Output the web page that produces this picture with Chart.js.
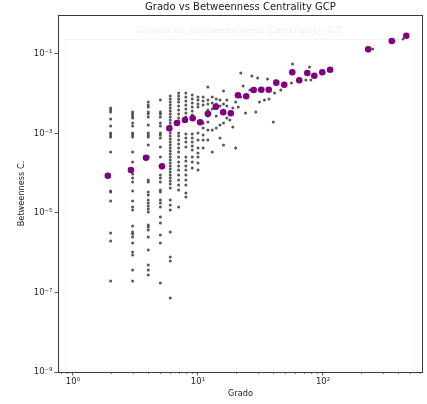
<!DOCTYPE html>
<html>
<head>
<meta charset="utf-8">
<script src="https://cdn.jsdelivr.net/npm/chart.js@4.4.1/dist/chart.umd.min.js"></script>
<style>
  html, body { margin: 0; padding: 0; background: #ffffff; }
  #wrap { width: 427px; height: 404px; position: relative; }
</style>
</head>
<body>
<div id="wrap"><canvas id="c" width="427" height="404"></canvas></div>
<script>
// Node degree columns and the betweenness centrality of every node with that degree
const colDegrees = [2, 3, 4, 5, 6, 7, 8, 9, 10, 11, 12, 13, 14, 15, 16, 17, 18, 19, 20, 21, 22, 23, 24, 26, 27, 29, 30, 31, 34, 36, 37, 40, 41, 46, 56, 57, 73, 78, 80, 250, 370, 437];
const colBetweenness = [
  [4.38e-3, 3.90e-3, 3.48e-3, 2.32e-3, 1.54e-3, 1.03e-3, 9.19e-4, 8.17e-4, 3.42e-4, 3.58e-5, 3.38e-5, 2.00e-5, 3.14e-6, 1.97e-6, 1.95e-7],
  [3.48e-3, 3.10e-3, 2.76e-3, 2.46e-3, 1.84e-3, 1.54e-3, 1.03e-3, 9.19e-4, 8.17e-4, 3.42e-4, 1.92e-4, 9.59e-5, 7.61e-5, 6.03e-5, 3.58e-5, 2.00e-5, 1.42e-5, 1.19e-5, 4.71e-6, 3.33e-6, 2.96e-6, 2.49e-6, 1.76e-6, 1.04e-6, 8.80e-7, 3.68e-7, 1.95e-7],
  [6.21e-3, 5.22e-3, 4.65e-3, 3.48e-3, 3.10e-3, 2.60e-3, 1.64e-3, 1.03e-3, 9.19e-4, 8.17e-4, 5.14e-4, 2.56e-4, 6.77e-5, 6.03e-5, 3.38e-5, 2.84e-5, 2.13e-5, 1.79e-5, 1.50e-5, 1.26e-5, 1.06e-5, 4.99e-6, 4.44e-6, 3.73e-6, 2.49e-6, 1.17e-6, 4.92e-7, 3.68e-7, 2.76e-7],
  [6.96e-3, 3.48e-3, 3.10e-3, 2.60e-3, 1.84e-3, 1.54e-3, 1.03e-3, 9.19e-4, 7.70e-4, 4.58e-4, 2.56e-4, 9.05e-5, 7.61e-5, 6.03e-5, 3.79e-5, 3.38e-5, 2.13e-5, 1.79e-5, 1.42e-5, 7.93e-6, 5.62e-6, 2.80e-6, 1.76e-6, 1.73e-7],
  [8.80e-3, 7.39e-3, 6.21e-3, 5.22e-3, 4.38e-3, 3.68e-3, 3.10e-3, 2.60e-3, 2.19e-3, 1.84e-3, 1.54e-3, 1.22e-3, 1.03e-3, 8.66e-4, 7.28e-4, 6.12e-4, 5.14e-4, 4.32e-4, 3.63e-4, 3.05e-4, 2.56e-4, 2.15e-4, 1.81e-4, 1.52e-4, 1.28e-4, 1.07e-4, 9.05e-5, 7.61e-5, 6.39e-5, 5.37e-5, 4.26e-5, 2.13e-5, 1.59e-5, 1.19e-5, 3.33e-6, 7.82e-7, 6.21e-7, 7.28e-8],
  [1.04e-2, 8.80e-3, 7.39e-3, 6.21e-3, 4.92e-3, 3.90e-3, 3.10e-3, 2.46e-3, 2.06e-3, 1.03e-3, 8.66e-4, 6.87e-4, 5.45e-4, 4.32e-4, 3.42e-4, 2.56e-4, 1.92e-4, 1.52e-4, 1.21e-4, 9.05e-5, 6.77e-5, 5.07e-5, 3.79e-5, 1.42e-5],
  [1.04e-2, 8.28e-3, 6.58e-3, 5.22e-3, 4.14e-3, 3.28e-3, 2.60e-3, 2.06e-3, 9.70e-4, 7.70e-4, 6.12e-4, 4.58e-4, 2.56e-4, 2.03e-4, 1.52e-4, 1.21e-4, 9.05e-5, 6.77e-5, 5.07e-5, 3.19e-5, 2.53e-5],
  [9.31e-3, 7.39e-3, 5.86e-3, 4.65e-3, 3.68e-3, 2.92e-3, 2.32e-3, 9.70e-4, 7.70e-4, 6.12e-4, 4.85e-4, 3.85e-4, 2.56e-4, 1.92e-4, 1.36e-4],
  [8.28e-3, 6.96e-3, 5.53e-3, 4.65e-3, 1.03e-3, 6.87e-4, 4.32e-4, 3.23e-4, 2.56e-4, 1.81e-4, 1.21e-4],
  [8.28e-3, 6.58e-3, 5.22e-3, 1.84e-3, 1.38e-3, 9.19e-4, 6.87e-4, 4.32e-4],
  [1.48e-2, 6.96e-3, 5.53e-3, 3.90e-3, 2.76e-3, 1.95e-3, 1.22e-3, 6.87e-4],
  [8.28e-3, 5.86e-3, 4.14e-3, 1.22e-3, 3.42e-4],
  [7.39e-3, 5.53e-3, 2.76e-3, 1.38e-3],
  [6.96e-3, 4.92e-3, 1.64e-3, 7.70e-4],
  [1.17e-2, 5.53e-3, 3.90e-3, 1.84e-3, 5.14e-4],
  [6.96e-3, 4.92e-3, 2.46e-3],
  [3.48e-3, 2.19e-3],
  [4.38e-3, 1.46e-3],
  [6.21e-3, 4.32e-4],
  [4.65e-3],
  [3.33e-2, 8.28e-3],
  [1.57e-2],
  [3.28e-3],
  [1.24e-2],
  [2.80e-2],
  [3.48e-3],
  [2.49e-2],
  [6.21e-3],
  [6.96e-3],
  [2.35e-2],
  [7.39e-3],
  [1.95e-3],
  [1.04e-2],
  [1.24e-2],
  [1.86e-2],
  [5.62e-2],
  [2.22e-2],
  [4.71e-2],
  [2.22e-2],
  [1.34e-1],
  [2.13e-1],
  [2.38e-1]
];

// Binned averages (purple markers)
const meanDegree = [1.9, 2.91, 3.84, 5.15, 5.9, 6.79, 7.87, 9.07, 10.4, 12.0, 13.9, 15.9, 18.3, 20.9, 24.3, 27.9, 32.1, 36.8, 42.3, 49.0, 56.8, 64.6, 74.9, 85.2, 98.7, 114, 230, 355, 464];
const meanBetweenness = [8.67e-5, 1.21e-4, 2.46e-4, 1.49e-4, 1.35e-3, 1.84e-3, 2.19e-3, 2.41e-3, 1.91e-3, 3.15e-3, 4.72e-3, 3.41e-3, 3.22e-3, 9.14e-3, 8.63e-3, 1.24e-2, 1.26e-2, 1.26e-2, 1.90e-2, 1.69e-2, 3.47e-2, 2.18e-2, 3.33e-2, 2.84e-2, 3.47e-2, 4.03e-2, 1.31e-1, 2.12e-1, 2.88e-1];

// Axis ticks
const xTickValues = [1, 10, 100];
const xTickLabels = ['10\u2070', '10\u00b9', '10\u00b2'];
const yTickValues = [1e-9, 1e-7, 1e-5, 1e-3, 1e-1];
const yTickLabels = ['10\u207b\u2079', '10\u207b\u2077', '10\u207b\u2075', '10\u207b\u00b3', '10\u207b\u00b9'];

const titleText = 'Grado vs Betweenness Centrality GCP';
const shadowTitleText = 'Grado vs Betweenness Centrality GT';
const xTitle = 'Grado';
const yTitle = 'Betweenness C.';

const FONT = "'DejaVu Sans', 'Liberation Sans', sans-serif";

const nodePoints = [];
colDegrees.forEach((d, i) => colBetweenness[i].forEach(b => nodePoints.push({ x: d, y: b })));
const meanPoints = meanDegree.map((d, i) => ({ x: d, y: meanBetweenness[i] }));

const decorations = {
  id: 'decorations',
  beforeDatasetsDraw(chart) {
    const ctx = chart.ctx;
    ctx.save();
    // faint underlying panel
    ctx.strokeStyle = '#f5f5f5';
    ctx.lineWidth = 1;
    ctx.strokeRect(65.5, 39.5, 349, 331);
    ctx.fillStyle = '#f5f5f5';
    ctx.font = 'bold 10px ' + FONT;
    ctx.textAlign = 'center';
    ctx.textBaseline = 'middle';
    ctx.fillText(shadowTitleText, 239, 31);
    ctx.restore();
  },
  afterDraw(chart) {
    const ctx = chart.ctx;
    const a = chart.chartArea;
    const xs = chart.scales.x;
    ctx.save();
    // minor ticks on the logarithmic x axis
    ctx.strokeStyle = '#333';
    ctx.lineWidth = 0.6;
    for (let k = -1; k <= 2; k++) {
      for (let m = 2; m <= 9; m++) {
        const v = m * Math.pow(10, k);
        if (v < xs.min || v > xs.max) continue;
        const px = Math.round(xs.getPixelForValue(v)) + 0.5;
        ctx.beginPath();
        ctx.moveTo(px, a.bottom);
        ctx.lineTo(px, a.bottom + 2);
        ctx.stroke();
      }
    }
    // frame
    ctx.strokeStyle = '#3a3a3a';
    ctx.lineWidth = 1;
    ctx.strokeRect(Math.round(a.left) + 0.5, Math.round(a.top) + 0.5, Math.round(a.right - a.left) - 1, Math.round(a.bottom - a.top));
    // titles
    ctx.fillStyle = '#1a1a1a';
    ctx.textAlign = 'center';
    ctx.textBaseline = 'middle';
    ctx.font = '10px ' + FONT;
    ctx.fillText(titleText, (a.left + a.right) / 2, 7);
    ctx.font = '8.2px ' + FONT;
    ctx.fillText(xTitle, (a.left + a.right) / 2, 394);
    ctx.translate(21.5, (a.top + a.bottom) / 2);
    ctx.rotate(-Math.PI / 2);
    ctx.fillText(yTitle, 0, 0);
    ctx.restore();
  }
};

new Chart(document.getElementById('c'), {
  type: 'scatter',
  data: {
    datasets: [
      {
        label: 'media',
        data: meanPoints,
        backgroundColor: '#800080',
        borderColor: '#800080',
        borderWidth: 0,
        pointRadius: 3.3
      },
      {
        label: 'nodos',
        data: nodePoints,
        backgroundColor: 'rgba(70,70,70,0.9)',
        borderWidth: 0,
        pointRadius: 1.5
      }
    ]
  },
  options: {
    responsive: false,
    animation: false,
    devicePixelRatio: 1,
    layout: { padding: { left: 0, top: 15, right: 4, bottom: 0 } },
    plugins: { legend: { display: false }, tooltip: { enabled: false }, title: { display: false } },
    scales: {
      x: {
        type: 'logarithmic',
        position: 'bottom',
        min: 0.759,
        max: 631,
        afterFit: s => { s.height = 32; },
        afterBuildTicks: s => { s.ticks = xTickValues.map(v => ({ value: v })); },
        border: { display: false },
        grid: { display: true, drawOnChartArea: false, drawTicks: true, tickLength: 3.5, color: '#333', lineWidth: 0.8 },
        ticks: {
          autoSkip: false,
          maxRotation: 0,
          padding: 1,
          color: '#262626',
          font: { family: FONT, size: 8.5 },
          callback: (v, i) => xTickLabels[i]
        }
      },
      y: {
        type: 'logarithmic',
        position: 'left',
        min: 1e-9,
        max: 0.957,
        afterFit: s => { s.width = 58; },
        afterBuildTicks: s => { s.ticks = yTickValues.map(v => ({ value: v })); },
        border: { display: false },
        grid: { display: true, drawOnChartArea: false, drawTicks: true, tickLength: 3.5, color: '#333', lineWidth: 0.8 },
        ticks: {
          autoSkip: false,
          padding: 2,
          color: '#262626',
          font: { family: FONT, size: 8.5 },
          callback: (v, i) => yTickLabels[i]
        }
      }
    }
  },
  plugins: [decorations]
});
</script>
</body>
</html>
